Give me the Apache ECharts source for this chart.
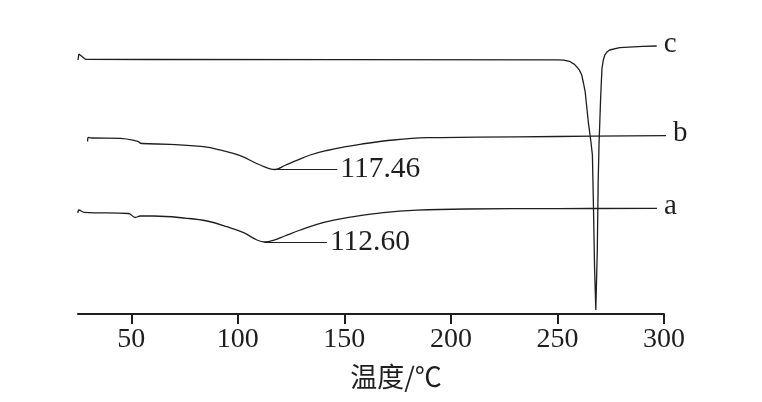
<!DOCTYPE html>
<html>
<head>
<meta charset="utf-8">
<script src="https://cdn.jsdelivr.net/npm/echarts@6/dist/echarts.min.js"></script>
<style>
html,body{margin:0;padding:0;background:#fff;}
#chart{width:762px;height:402px;}
</style>
</head>
<body>
<div id="chart"></div>
<script>
// Temperature (°C) and DSC signal (arbitrary units, offset per curve)
const tempsA = [25.0, 25.4, 28.0, 48.7, 51.9, 54.2, 60.5, 76.1, 85.5, 94.9, 102.7, 109.0, 112.6, 117.0, 122.0, 129.3, 137.1, 145.0, 152.7, 168.3, 184.0, 207.5, 250.0, 296.7];
const signalA = [33.67, 34.67, 33.9, 33.5, 32.17, 32.67, 32.67, 31.9, 31.0, 29.1, 27.1, 24.67, 24.0, 24.6, 26.0, 28.0, 29.9, 31.3, 32.3, 33.8, 34.6, 35.0, 35.13, 35.23];

const tempsB = [29.5, 29.8, 31.6, 44.8, 52.7, 55.0, 68.3, 83.9, 91.7, 101.1, 110.5, 117.46, 122.0, 128.0, 134.0, 141.8, 150.0, 157.4, 173.0, 188.7, 212.1, 250.0, 301.0];
const signalB = [57.5, 58.9, 58.67, 58.57, 57.6, 56.83, 56.57, 55.77, 54.67, 52.77, 49.67, 48.17, 49.5, 51.3, 53.0, 54.5, 55.7, 56.57, 58.0, 58.77, 58.93, 59.17, 59.43];

const tempsC = [25.0, 25.4, 28.5, 60.0, 150.0, 250.0, 253.0, 256.0, 258.0, 259.0, 260.3, 261.4, 262.2, 263.0, 264.5, 265.7, 266.4, 266.9, 267.4, 268.0, 268.7, 269.1, 269.5, 270.2, 270.6, 270.9, 271.5, 272.2, 273.2, 274.5, 279.2, 290.0, 296.6];
const signalC = [84.67, 86.67, 84.9, 84.83, 84.77, 84.73, 84.6, 84.1, 83.2, 82.43, 81.3, 79.67, 77.0, 74.1, 63.9, 57.43, 53.0, 35.77, 15.77, 1.33, 21.33, 43.57, 56.33, 70.77, 77.5, 81.9, 84.6, 86.33, 87.3, 88.0, 88.77, 89.23, 89.33];

const seriesNames = ['a', 'b', 'c'];
const peakTemps = [112.60, 117.46];
const peakSignals = [24.0, 48.17];
const peakLabels = ['112.60', '117.46'];

const xTicks = [50, 100, 150, 200, 250, 300];
const xName = '温度/℃';

const zip = (xs, ys) => xs.map((x, i) => [x, ys[i]]);
const serif = '"Liberation Serif", "DejaVu Serif", serif';
const ink = '#1e1e1e';

function peakMark(i) {
  return {
    silent: true,
    symbol: ['none', 'none'],
    animation: false,
    lineStyle: { color: ink, width: 1.2, type: 'solid' },
    label: {
      show: true, position: 'end', distance: 3,
      formatter: peakLabels[i],
      fontFamily: serif, fontSize: 29.5, color: ink
    },
    data: [[
      { coord: [peakTemps[i], peakSignals[i]] },
      { coord: [peakTemps[i] + 29.2, peakSignals[i]] }
    ]]
  };
}

function mkSeries(name, xs, ys, smooth, mark) {
  const s = {
    name: name,
    type: 'line',
    data: zip(xs, ys),
    showSymbol: false,
    symbol: 'none',
    smooth: smooth,
    clip: false,
    lineStyle: { color: ink, width: 1.3 },
    endLabel: {
      show: true, formatter: name, distance: 7,
      fontFamily: serif, fontSize: 29, color: ink, offset: [0, -2]
    },
    animation: false
  };
  if (mark) s.markLine = mark;
  return s;
}

const chart = echarts.init(document.getElementById('chart'), null, { renderer: 'canvas' });
chart.setOption({
  backgroundColor: '#fff',
  animation: false,
  grid: { left: 78, right: 98, top: 14, bottom: 88, containLabel: false },
  xAxis: {
    type: 'value',
    min: 25, max: 300,
    name: xName,
    nameLocation: 'middle',
    nameGap: 49,
    nameTextStyle: {
      fontFamily: '"Noto Sans CJK SC", sans-serif', fontSize: 27, color: ink,
      padding: [0, 0, 0, 50]
    },
    axisLine: { show: true, lineStyle: { color: ink, width: 2 } },
    axisTick: { show: true, inside: false, length: 10, lineStyle: { color: ink, width: 2 }, customValues: xTicks },
    axisLabel: { show: true, margin: 12, fontFamily: serif, fontSize: 28, color: ink, customValues: xTicks },
    splitLine: { show: false }
  },
  yAxis: {
    type: 'value', min: 0, max: 100, show: false,
    splitLine: { show: false }
  },
  series: [
    mkSeries(seriesNames[0], tempsA, signalA, 0.4, peakMark(0)),
    mkSeries(seriesNames[1], tempsB, signalB, 0.4, peakMark(1)),
    mkSeries(seriesNames[2], tempsC, signalC, false, null)
  ]
});
</script>
</body>
</html>
